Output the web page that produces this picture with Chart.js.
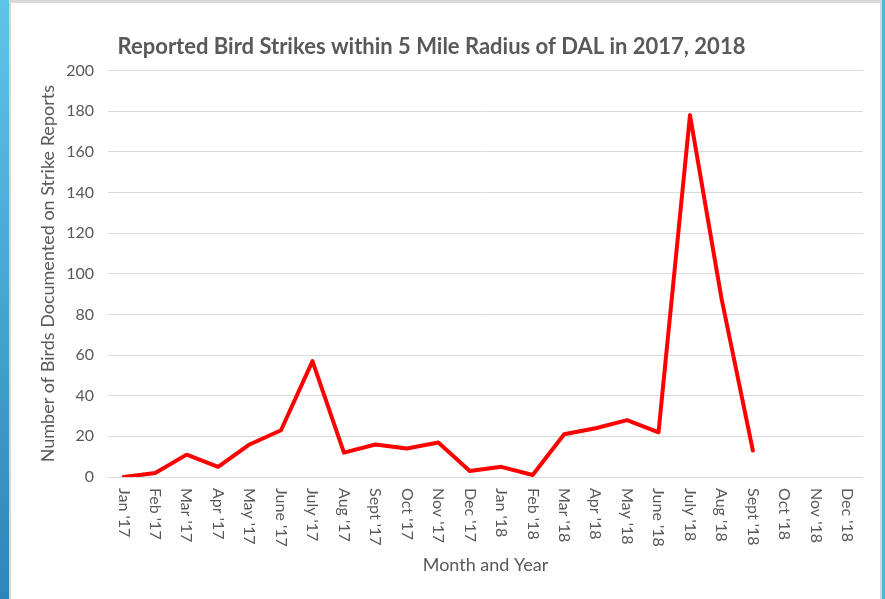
<!DOCTYPE html>
<html>
<head>
<meta charset="utf-8">
<script src="https://cdn.jsdelivr.net/npm/chart.js@4.4.0/dist/chart.umd.min.js"></script>
<style>
  body { margin: 0; background: #fff; }
  #wrap { position: relative; width: 885px; height: 599px; overflow: hidden; background: #fff; }
  #myChart { position: absolute; left: 0; top: 0; }
  .edge { position: absolute; }
</style>
</head>
<body>
<div id="wrap">
  <canvas id="myChart" width="864" height="599"></canvas>
  <div class="edge" style="left:0;top:0;width:9px;height:599px;background:linear-gradient(to bottom,#5ec5e8,#2d86b8);"></div>
  <div class="edge" style="left:9px;top:0;width:2px;height:599px;background:#d6d6d6;"></div>
  <div class="edge" style="left:11px;top:0;width:871px;height:3px;background:#d9d9d9;"></div>
  <div class="edge" style="left:880px;top:0;width:2px;height:599px;background:#d6d6d6;"></div>
  <div class="edge" style="left:882px;top:0;width:3px;height:599px;background:#4fb4dc;"></div>
</div>
<script>
// Month labels along the x axis
const months = ["Jan '17", "Feb '17", "Mar '17", "Apr '17", "May '17", "June '17", "July '17", "Aug '17",
  "Sept '17", "Oct '17", "Nov '17", "Dec '17", "Jan '18", "Feb '18", "Mar '18", "Apr '18", "May '18",
  "June '18", "July '18", "Aug '18", "Sept '18", "Oct '18", "Nov '18", "Dec '18"];

// Birds documented per month (no data yet for Oct - Dec '18)
const birdCounts = [0, 2, 11, 5, 16, 23, 57, 12, 16, 14, 17, 3, 5, 1, 21, 24, 28, 22, 178, 88, 13, null, null, null];

// y axis range
const yMin = 0;
const yMax = 200;
const yStep = 20;

const textGray = '#595959';
const fontFamily = 'Lato, "Open Sans", sans-serif';

// draw the x labels turned clockwise (top to bottom), like the original
const xLabelPlugin = {
    id: 'xLabels',
    afterDraw(chart) {
        const sx = chart.scales.x;
        const ctx = chart.ctx;
        ctx.save();
        ctx.font = '16px ' + fontFamily;
        ctx.fillStyle = textGray;
        ctx.textAlign = 'left';
        ctx.textBaseline = 'middle';
        months.forEach((m, i) => {
            ctx.save();
            ctx.translate(sx.getPixelForTick(i), sx.top + 11);
            ctx.rotate(Math.PI / 2);
            ctx.fillText(m, 0, 0);
            ctx.restore();
        });
        ctx.restore();
    }
};

const ctx = document.getElementById('myChart').getContext('2d');
const myChart = new Chart(ctx, {
    type: 'line',
    data: {
        labels: months,
        datasets: [{
            label: 'Birds',
            data: birdCounts,
            borderColor: '#ff0000',
            borderWidth: 4,
            borderJoinStyle: 'round',
            borderCapStyle: 'round',
            pointRadius: 0,
            tension: 0,
            fill: false,
        }],
    },
    plugins: [xLabelPlugin],
    options: {
        responsive: false,
        animation: false,
        devicePixelRatio: 1,
        layout: { padding: { left: 0, right: 1, top: 0, bottom: 19 } },
        plugins: {
            legend: { display: false },
            tooltip: { enabled: false },
            title: {
                display: true,
                text: 'Reported Bird Strikes within 5 Mile Radius of DAL in 2017, 2018',
                color: textGray,
                font: { family: fontFamily, size: 22, weight: 'bold' },
                padding: { top: 34, bottom: 10 },
            },
        },
        scales: {
            x: {
                offset: true,
                grid: { display: false, drawTicks: false },
                border: { display: false },
                ticks: {
                    color: 'transparent',
                    font: { family: fontFamily, size: 16 },
                    minRotation: 90,
                    maxRotation: 90,
                    padding: 11,
                    autoSkip: false,
                },
                title: {
                    display: true,
                    text: 'Month and Year',
                    color: textGray,
                    font: { family: fontFamily, size: 18 },
                    padding: { top: 4, bottom: 4 },
                },
                afterFit(scale) {
                    scale.height = 103;
                    scale.paddingLeft = 0;
                    scale.paddingRight = 0;
                },
            },
            y: {
                min: yMin,
                max: yMax,
                grid: { color: '#d9d9d9', lineWidth: 1, drawTicks: false },
                border: { display: false },
                ticks: {
                    stepSize: yStep,
                    color: textGray,
                    font: { family: fontFamily, size: 16 },
                    padding: 14,
                },
                title: {
                    display: true,
                    text: 'Number of Birds Documented on Strike Reports',
                    color: textGray,
                    font: { family: fontFamily, size: 18 },
                    padding: { top: 37, bottom: 4 },
                },
                afterFit(scale) { scale.width = 108; },
            },
        },
    },
});
</script>
</body>
</html>
